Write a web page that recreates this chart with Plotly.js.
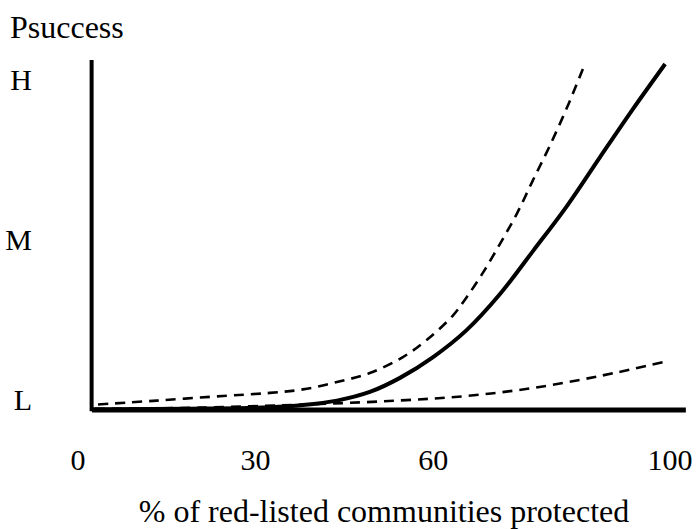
<!DOCTYPE html>
<html>
<head>
<meta charset="utf-8">
<script src="https://cdn.plot.ly/plotly-3.0.1.min.js"></script>
<style>html,body{margin:0;padding:0;background:#fff;}#chart{width:696px;height:529px;}</style>
</head>
<body>
<div id="chart"></div>
<script>
// x: % of red-listed communities protected; y: Psuccess (0 = L, 0.5 = M, 1 = H)
var xTickVals = [0, 30, 60, 100];
var xTickText = ['0', '30', '60', '100'];
var yTickVals = [0, 0.5, 1];
var yTickText = ['L', 'M', 'H'];

var midX = [2.36, 12.16, 22.3, 32.4, 38.0, 43.75, 49.3, 54.4, 60.0, 65.7, 71.3, 76.9, 82.6, 88.2, 93.75, 99.2];
var midY = [-0.030, -0.028, -0.027, -0.023, -0.016, -0.002, 0.025, 0.069, 0.134, 0.219, 0.331, 0.466, 0.606, 0.759, 0.909, 1.05];

var upperX = [3.38, 13.3, 24.5, 32.4, 38.0, 43.75, 49.3, 54.9, 58.95, 63.3, 65.7, 68.4, 71.3, 74.2, 76.9, 79.7, 82.6, 85.3];
var upperY = [-0.014, -0.002, 0.0125, 0.022, 0.033, 0.056, 0.084, 0.134, 0.188, 0.263, 0.322, 0.397, 0.488, 0.584, 0.688, 0.794, 0.913, 1.034];

var lowerX = [2.87, 20.6, 40.9, 54.4, 65.7, 76.9, 88.2, 99.0];
var lowerY = [-0.028, -0.024, -0.0125, -0.0016, 0.0125, 0.0375, 0.075, 0.119];

var FONT = '"Liberation Serif", "Times New Roman", serif';

var traces = [
  {x: lowerX, y: lowerY, mode: 'lines', line: {color: '#000', width: 2.6, dash: '10px,7px', shape: 'spline', smoothing: 1}, hoverinfo: 'skip'},
  {x: upperX, y: upperY, mode: 'lines', line: {color: '#000', width: 2.6, dash: '10px,7px', shape: 'spline', smoothing: 1}, hoverinfo: 'skip'},
  {x: midX, y: midY, mode: 'lines', line: {color: '#000', width: 4, shape: 'spline', smoothing: 1}, hoverinfo: 'skip'}
];

var layout = {
  width: 696, height: 529,
  margin: {l: 78, r: 6, t: 55, b: 114},
  paper_bgcolor: '#fff', plot_bgcolor: '#fff',
  showlegend: false,
  font: {family: FONT, color: '#000', size: 30},
  title: {text: 'Psuccess', x: 10/696, xanchor: 'left', y: 1 - 27/529, yanchor: 'middle', font: {family: FONT, size: 32, color: '#000'}},
  xaxis: {
    range: [0, 103.4], showgrid: false, zeroline: false, showline: false,
    tickvals: xTickVals, ticktext: xTickText,
    ticks: 'outside', ticklen: 18, tickcolor: 'rgba(0,0,0,0)',
    tickfont: {family: FONT, size: 30, color: '#000'},
    title: {text: '% of red-listed communities protected', standoff: 28, font: {family: FONT, size: 32, color: '#000'}},
    fixedrange: true
  },
  yaxis: {
    range: [-0.047, 1.078], showgrid: false, zeroline: false, showline: false,
    tickvals: yTickVals, ticktext: yTickText,
    ticks: 'outside', ticklen: 39, tickcolor: 'rgba(0,0,0,0)',
    tickfont: {family: FONT, size: 30, color: '#000'},
    fixedrange: true
  },
  shapes: [
    {type: 'line', xref: 'x', yref: 'y', x0: 2.36, x1: 102.7, y0: -0.031, y1: -0.031, line: {color: '#000', width: 5}},
    {type: 'line', xref: 'x', yref: 'y', x0: 2.3, x1: 2.3, y0: -0.035, y1: 1.0625, line: {color: '#000', width: 4}}
  ]
};

Plotly.newPlot('chart', traces, layout, {displayModeBar: false, staticPlot: true});
</script>
</body>
</html>
